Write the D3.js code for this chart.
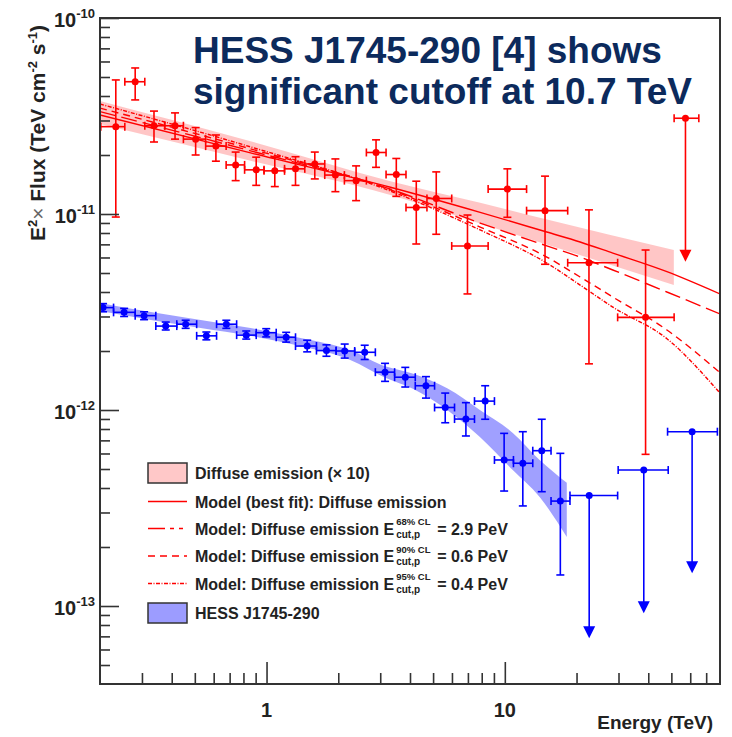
<!DOCTYPE html>
<html>
<head>
<meta charset="utf-8">
<script src="https://cdn.jsdelivr.net/npm/d3@7"></script>
<style>
  body { margin: 0; background: #fff; }
  svg text { font-family: "Liberation Sans", Arial, Helvetica, sans-serif; font-weight: bold; }
</style>
</head>
<body>
<svg id="chart" width="732" height="737"></svg>
<script>
// ---- diffuse emission (x10), red points ----
var redE = [0.233, 0.281, 0.337, 0.413, 0.504, 0.613, 0.742, 0.905, 1.083, 1.323, 1.594, 1.945, 2.376, 2.881, 3.504, 4.25, 5.155, 6.971, 10.25, 14.75, 22.55, 38.97];
var redEdges = [0.2016, 0.2542, 0.3083, 0.3738, 0.4478, 0.5552, 0.6767, 0.8089, 0.976, 1.19, 1.447, 1.755, 2.122, 2.624, 3.174, 3.848, 4.712, 5.986, 8.511, 12.34, 18.36, 29.75, 51.35];
var redF = [2.79e-11, 4.73e-11, 2.82e-11, 2.82e-11, 2.41e-11, 2.22e-11, 1.78e-11, 1.68e-11, 1.66e-11, 1.70e-11, 1.80e-11, 1.58e-11, 1.48e-11, 2.06e-11, 1.59e-11, 1.08e-11, 1.20e-11, 6.87e-12, 1.34e-11, 1.04e-11, 5.64e-12, 2.97e-12];
var redHi = [4.83e-11, 5.56e-11, 3.35e-11, 3.28e-11, 2.76e-11, 2.53e-11, 2.07e-11, 1.95e-11, 1.95e-11, 1.96e-11, 2.07e-11, 1.91e-11, 1.76e-11, 2.39e-11, 1.92e-11, 1.47e-11, 1.64e-11, 9.88e-12, 1.70e-11, 1.56e-11, 1.05e-11, 6.55e-12];
var redLo = [9.65e-12, 3.82e-11, 2.33e-11, 2.41e-11, 2.0e-11, 1.86e-11, 1.48e-11, 1.40e-11, 1.38e-11, 1.40e-11, 1.51e-11, 1.30e-11, 1.17e-11, 1.73e-11, 1.23e-11, 7.03e-12, 7.88e-12, 3.91e-12, 9.62e-12, 5.54e-12, 1.72e-12, 5.94e-13];
// upper limit
var redUlE = [57.3], redUlLo = [51.35], redUlHi = [65.2], redUlF = [3.08e-11], redUlTip = [5.71e-12];

// ---- HESS J1745-290, blue points ----
var blueE = [0.206, 0.2525, 0.3062, 0.3775, 0.4577, 0.559, 0.678, 0.822, 0.997, 1.209, 1.481, 1.784, 2.128, 2.582, 3.143, 3.822, 4.667, 5.622, 6.866, 8.271, 9.934, 11.9, 14.29, 17.1];
var blueEdges = [0.186, 0.228, 0.281, 0.343, 0.42, 0.509, 0.617, 0.749, 0.905, 1.098, 1.323, 1.62, 1.959, 2.344, 2.862, 3.447, 4.209, 5.072, 6.151, 7.46, 9.047, 10.87, 13.1, 15.63, 18.77];
var blueF = [3.33e-12, 3.15e-12, 3.03e-12, 2.68e-12, 2.74e-12, 2.39e-12, 2.74e-12, 2.41e-12, 2.48e-12, 2.35e-12, 2.12e-12, 2.01e-12, 2.00e-12, 1.97e-12, 1.56e-12, 1.47e-12, 1.33e-12, 1.03e-12, 8.99e-13, 1.11e-12, 5.56e-13, 5.35e-13, 6.2e-13, 3.43e-13];
var blueHi = [3.49e-12, 3.30e-12, 3.17e-12, 2.81e-12, 2.87e-12, 2.50e-12, 2.87e-12, 2.53e-12, 2.60e-12, 2.49e-12, 2.27e-12, 2.15e-12, 2.17e-12, 2.14e-12, 1.73e-12, 1.65e-12, 1.48e-12, 1.22e-12, 1.09e-12, 1.33e-12, 7.6e-13, 7.75e-13, 8.97e-13, 6.01e-13];
var blueLo = [3.17e-12, 3.0e-12, 2.89e-12, 2.56e-12, 2.61e-12, 2.28e-12, 2.61e-12, 2.30e-12, 2.36e-12, 2.22e-12, 1.98e-12, 1.88e-12, 1.84e-12, 1.81e-12, 1.40e-12, 1.31e-12, 1.15e-12, 8.61e-13, 7.37e-13, 8.97e-13, 3.86e-13, 3.24e-13, 3.83e-13, 1.44e-13];
var blueUlE = [22.6, 38.3, 61.1], blueUlLo = [18.77, 29.9, 48.2], blueUlHi = [29.75, 48.5, 78.0];
var blueUlF = [3.66e-13, 4.94e-13, 7.75e-13], blueUlTip = [6.84e-14, 9.18e-14, 1.47e-13];

// ---- bands ----
var redBandE = [0.2, 0.857, 3.31, 7.88, 14.75, 51.2];
var redBandHi = [3.77e-11, 2.35e-11, 1.47e-11, 1.14e-11, 9.43e-12, 6.55e-12];
var redBandLo = [2.88e-11, 1.87e-11, 1.25e-11, 8.94e-12, 7.03e-12, 4.34e-12];
var blueBandE = [0.2, 0.327, 0.529, 0.857, 1.388, 2.247, 3.15, 4.13, 5.73, 7.86, 10.8, 14.0, 18.2];
var blueBandHi = [3.52e-12, 3.16e-12, 2.88e-12, 2.62e-12, 2.33e-12, 2.02e-12, 1.67e-12, 1.53e-12, 1.29e-12, 1.0e-12, 7.64e-13, 5.56e-13, 4.25e-13];
var blueBandLo = [3.20e-12, 2.88e-12, 2.62e-12, 2.39e-12, 2.12e-12, 1.80e-12, 1.46e-12, 1.28e-12, 1.0e-12, 7.28e-13, 4.94e-13, 3.6e-13, 2.25e-13];

// ---- model curves ----
var modelE = [0.2, 0.857, 3.31, 7.88, 15.0, 20.7, 28.4, 47.9, 80];
var bestFit = [3.20e-11, 2.05e-11, 1.37e-11, 1.02e-11, 8.09e-12, 7.20e-12, 6.32e-12, 5.08e-12, 3.91e-12];
var cut68 = [3.33e-11, 2.10e-11, 1.34e-11, 8.99e-12, 6.88e-12, 6.03e-12, 5.18e-12, 4.0e-12, 3.09e-12];
var cut90 = [3.47e-11, 2.15e-11, 1.33e-11, 8.58e-12, 6.03e-12, 4.77e-12, 3.77e-12, 2.56e-12, 1.55e-12];
var cut95 = [3.64e-11, 2.20e-11, 1.31e-11, 8.29e-12, 5.62e-12, 4.34e-12, 3.35e-12, 2.31e-12, 1.22e-12];

// ---- axis ticks ----
var yMajor = [1e-10, 1e-11, 1e-12, 1e-13];
var yExp = ["-10", "-11", "-12", "-13"];
var xMajor = [1, 10];
var xLabels = ["1", "10"];

var svg = d3.select("#chart");
var margin = {top: 18, right: 12, bottom: 53, left: 100};
var w = 732 - margin.left - margin.right;
var h = 737 - margin.top - margin.bottom;

var x = d3.scaleLog().domain([0.2, 80]).range([margin.left, margin.left + w]);
var y = d3.scaleLog().domain([4e-14, 1e-10]).range([margin.top + h, margin.top]);

svg.append("defs").append("clipPath").attr("id", "plotclip")
  .append("rect").attr("x", margin.left).attr("y", margin.top).attr("width", w).attr("height", h);

var plot = svg.append("g").attr("clip-path", "url(#plotclip)");

// bands
function band(E, lo, hi, fill, op) {
  var pts = E.map(function(e, i) { return {e: e, lo: lo[i], hi: hi[i]}; });
  var area = d3.area()
    .x(function(d) { return x(d.e); })
    .y0(function(d) { return y(d.lo); })
    .y1(function(d) { return y(d.hi); })
    .curve(d3.curveMonotoneX);
  plot.append("path").datum(pts).attr("d", area).attr("fill", fill).attr("fill-opacity", op);
}
band(redBandE, redBandLo, redBandHi, "#ffb3b3", 0.75);
band(blueBandE, blueBandLo, blueBandHi, "#8080ff", 0.75);

// model lines
var line = d3.line()
  .x(function(d) { return x(d[0]); })
  .y(function(d) { return y(d[1]); })
  .curve(d3.curveMonotoneX);
var longDash = "16,6", shortDash = "7,5", dotDash = "4,1.5,1,1.5";
var models = [
  {v: bestFit, dash: null},
  {v: cut68, dash: longDash},
  {v: cut90, dash: shortDash},
  {v: cut95, dash: dotDash}
];
models.forEach(function(m) {
  plot.append("path")
    .datum(modelE.map(function(e, i) { return [e, m.v[i]]; }))
    .attr("d", line)
    .attr("fill", "none")
    .attr("stroke", "#ff0000")
    .attr("stroke-width", 1.4)
    .attr("stroke-dasharray", m.dash);
});

// points with error bars
function points(E, edges, F, lo, hi, color) {
  var g = plot.append("g").attr("stroke", color).attr("stroke-width", 1.6).attr("fill", color);
  E.forEach(function(e, i) {
    var cx = x(e), cy = y(F[i]);
    var x0 = x(edges[i]), x1 = x(edges[i + 1]);
    var y0 = y(lo[i]), y1 = y(hi[i]);
    g.append("line").attr("x1", x0).attr("x2", x1).attr("y1", cy).attr("y2", cy);
    g.append("line").attr("x1", x0).attr("x2", x0).attr("y1", cy - 4).attr("y2", cy + 4);
    g.append("line").attr("x1", x1).attr("x2", x1).attr("y1", cy - 4).attr("y2", cy + 4);
    g.append("line").attr("x1", cx).attr("x2", cx).attr("y1", y0).attr("y2", y1);
    g.append("line").attr("x1", cx - 4).attr("x2", cx + 4).attr("y1", y0).attr("y2", y0);
    g.append("line").attr("x1", cx - 4).attr("x2", cx + 4).attr("y1", y1).attr("y2", y1);
    g.append("circle").attr("cx", cx).attr("cy", cy).attr("r", 3.5).attr("stroke", "none");
  });
}
function limits(E, elo, ehi, F, tip, color) {
  var g = plot.append("g").attr("stroke", color).attr("stroke-width", 1.6).attr("fill", color);
  E.forEach(function(e, i) {
    var cx = x(e), cy = y(F[i]), ty = y(tip[i]);
    var x0 = x(elo[i]), x1 = x(ehi[i]);
    g.append("line").attr("x1", x0).attr("x2", x1).attr("y1", cy).attr("y2", cy);
    g.append("line").attr("x1", x0).attr("x2", x0).attr("y1", cy - 4).attr("y2", cy + 4);
    g.append("line").attr("x1", x1).attr("x2", x1).attr("y1", cy - 4).attr("y2", cy + 4);
    g.append("line").attr("x1", cx).attr("x2", cx).attr("y1", cy).attr("y2", ty - 10);
    g.append("path").attr("stroke", "none")
      .attr("d", "M" + (cx - 6) + "," + (ty - 12) + "L" + (cx + 6) + "," + (ty - 12) + "L" + cx + "," + ty + "Z");
    g.append("circle").attr("cx", cx).attr("cy", cy).attr("r", 3.5).attr("stroke", "none");
  });
}
points(redE, redEdges, redF, redLo, redHi, "#ff0000");
limits(redUlE, redUlLo, redUlHi, redUlF, redUlTip, "#ff0000");
points(blueE, blueEdges, blueF, blueLo, blueHi, "#0000ff");
limits(blueUlE, blueUlLo, blueUlHi, blueUlF, blueUlTip, "#0000ff");

// axes: inward ticks
var yMinor = [];
[-14, -13, -12, -11].forEach(function(p) {
  for (var k = 2; k <= 9; k++) {
    var v = k * Math.pow(10, p);
    if (v > 4.01e-14 && v < 1e-10) yMinor.push(v);
  }
});
var xMinor = [];
[-1, 0, 1].forEach(function(p) {
  for (var k = 2; k <= 9; k++) {
    var v = k * Math.pow(10, p);
    if (v > 0.201 && v < 79.9) xMinor.push(v);
  }
});

var axisG = svg.append("g").attr("class", "axes");
axisG.append("g").attr("transform", "translate(" + margin.left + ",0)")
  .call(d3.axisLeft(y).tickValues(yMajor).tickSize(-19).tickFormat(""));
axisG.append("g").attr("transform", "translate(" + margin.left + ",0)")
  .call(d3.axisLeft(y).tickValues(yMinor).tickSize(-10).tickFormat(""));
axisG.append("g").attr("transform", "translate(0," + (margin.top + h) + ")")
  .call(d3.axisBottom(x).tickValues(xMajor).tickSize(-22).tickFormat(""));
axisG.append("g").attr("transform", "translate(0," + (margin.top + h) + ")")
  .call(d3.axisBottom(x).tickValues(xMinor).tickSize(-11).tickFormat(""));
axisG.selectAll(".domain").remove();
axisG.selectAll("line").attr("stroke", "#333").attr("stroke-width", 1.6);

svg.append("rect")
  .attr("x", margin.left).attr("y", margin.top).attr("width", w).attr("height", h)
  .attr("fill", "none").attr("stroke", "#333").attr("stroke-width", 2);

// tick labels
yMajor.forEach(function(v, i) {
  var t = svg.append("text").attr("x", 95).attr("y", y(v) + 8.5)
    .attr("text-anchor", "end").attr("fill", "#222").attr("font-size", 20);
  t.append("tspan").text("10");
  t.append("tspan").attr("dy", -9).attr("font-size", 13).text(yExp[i]);
});
xMajor.forEach(function(v, i) {
  svg.append("text").attr("x", x(v)).attr("y", 717).attr("text-anchor", "middle")
    .attr("fill", "#222").attr("font-size", 20).text(xLabels[i]);
});

svg.append("text").attr("x", 713).attr("y", 729).attr("text-anchor", "end")
  .attr("fill", "#222").attr("font-size", 19).text("Energy (TeV)");

var yl = svg.append("text").attr("transform", "translate(45,133) rotate(-90)")
  .attr("text-anchor", "middle").attr("fill", "#222").attr("font-size", 21);
yl.append("tspan").text("E");
yl.append("tspan").attr("dy", -8).attr("font-size", 13).text("2");
yl.append("tspan").attr("dy", 8).attr("font-weight", "normal").attr("fill", "#666").text("\u00d7");
yl.append("tspan").text(" Flux (TeV cm");
yl.append("tspan").attr("dy", -8).attr("font-size", 13).text("-2");
yl.append("tspan").attr("dy", 8).text(" s");
yl.append("tspan").attr("dy", -8).attr("font-size", 13).text("-1");
yl.append("tspan").attr("dy", 8).text(")");

// title
svg.append("text").attr("x", 193).attr("y", 63).attr("fill", "#0c2a5c").attr("font-size", 37)
  .text("HESS J1745-290 [4] shows");
svg.append("text").attr("x", 193).attr("y", 104).attr("fill", "#0c2a5c").attr("font-size", 37)
  .text("significant cutoff at 10.7 TeV");

// legend
var leg = svg.append("g");
var lx0 = 148, lx1 = 187, tx = 195;
var legRows = [
  {y: 473, kind: "box", fill: "#ffc8c8", text: "Diffuse emission (\u00d7 10)"},
  {y: 501.5, kind: "line", dash: null, text: "Model (best fit): Diffuse emission"},
  {y: 528.5, kind: "line", dash: "17,5,4,5,4,5", text: "Model: Diffuse emission E", sup: "68% CL", tail: "= 2.9 PeV"},
  {y: 556, kind: "line", dash: "7,5", text: "Model: Diffuse emission E", sup: "90% CL", tail: "= 0.6 PeV"},
  {y: 583.5, kind: "line", dash: dotDash, text: "Model: Diffuse emission E", sup: "95% CL", tail: "= 0.4 PeV"},
  {y: 613, kind: "box", fill: "#9c9cff", text: "HESS J1745-290"}
];
legRows.forEach(function(r) {
  if (r.kind === "box") {
    leg.append("rect").attr("x", lx0).attr("y", r.y - 10).attr("width", lx1 - lx0).attr("height", 20)
      .attr("fill", r.fill).attr("stroke", "#333").attr("stroke-width", 1.5);
  } else {
    leg.append("line").attr("x1", lx0).attr("x2", lx1).attr("y1", r.y).attr("y2", r.y)
      .attr("stroke", "#ff0000").attr("stroke-width", 1.4).attr("stroke-dasharray", r.dash);
  }
  var t = leg.append("text").attr("x", tx).attr("y", r.y + 6).attr("fill", "#222").attr("font-size", 16).text(r.text);
  if (r.sup) {
    var ex = tx + t.node().getComputedTextLength() + 2;
    leg.append("text").attr("x", ex).attr("y", r.y - 3.5).attr("fill", "#222").attr("font-size", 9.5).text(r.sup);
    leg.append("text").attr("x", ex).attr("y", r.y + 9).attr("fill", "#222").attr("font-size", 10).text("cut,p");
    leg.append("text").attr("x", ex + 41).attr("y", r.y + 6).attr("fill", "#222").attr("font-size", 16).text(r.tail);
  }
});
</script>
</body>
</html>
